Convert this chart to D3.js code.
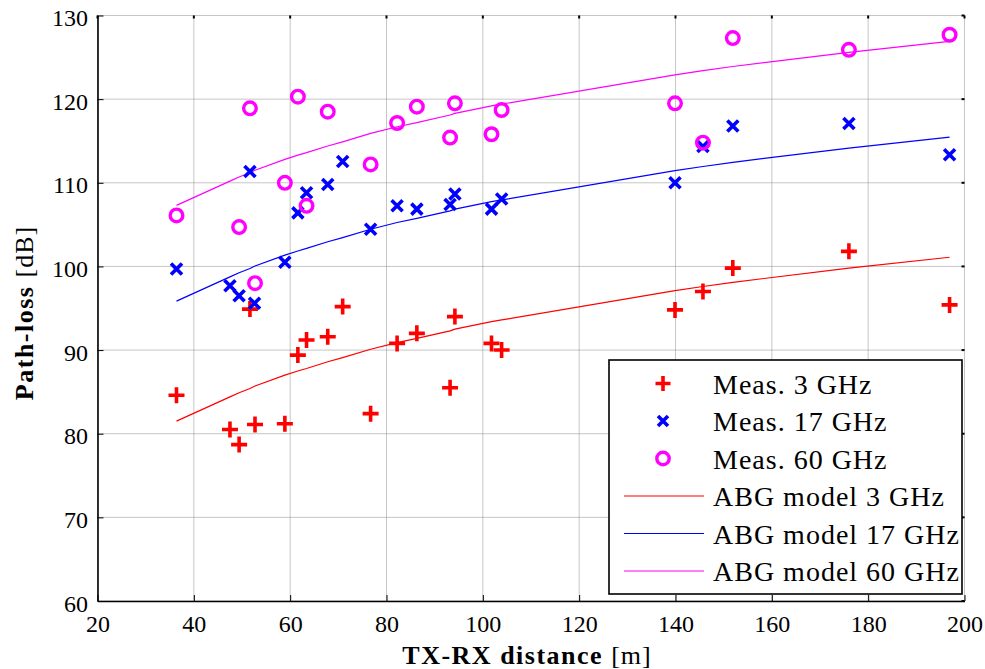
<!DOCTYPE html>
<html>
<head>
<meta charset="utf-8">
<script src="https://cdn.jsdelivr.net/npm/d3@7"></script>
<style>
  html, body { margin: 0; padding: 0; background: #fff; }
  svg { display: block; }
  text { font-family: "Liberation Serif", "Times New Roman", serif; fill: #000; }
</style>
</head>
<body>
<svg id="chart" width="985" height="669"></svg>
<script>
// ---------------- DATA ----------------
const xTicks = [20, 40, 60, 80, 100, 120, 140, 160, 180, 200];
const yTicks = [60, 70, 80, 90, 100, 110, 120, 130];

// Measurements 3 GHz
const dist3 = [36.4, 47.5, 49.4, 51.65, 52.7, 58.9, 61.6, 63.4, 67.8, 70.9, 76.7, 82.2, 86.3, 93.2, 94.2, 101.8, 103.9, 139.9, 145.7, 151.9, 176.0, 196.9];
const meas3 = [84.6, 80.5, 78.7, 94.9, 81.1, 81.2, 89.4, 91.2, 91.6, 95.2, 82.4, 90.8, 92.0, 85.5, 94.0, 90.8, 90.0, 94.8, 97.0, 99.8, 101.8, 95.4];

// Measurements 17 GHz
const dist17 = [36.4, 47.5, 49.4, 51.65, 52.6, 58.9, 61.6, 63.4, 67.8, 70.9, 76.7, 82.2, 86.3, 93.2, 94.2, 101.8, 103.9, 139.9, 145.7, 151.9, 176.0, 196.9];
const meas17 = [99.7, 97.7, 96.5, 111.35, 95.6, 100.5, 106.4, 108.8, 109.8, 112.55, 104.45, 107.25, 106.85, 107.4, 108.65, 106.85, 108.05, 110.0, 114.35, 116.8, 117.1, 113.35];

// Measurements 60 GHz
const dist60 = [36.4, 49.4, 51.65, 52.7, 58.9, 61.6, 63.4, 67.8, 76.7, 82.2, 86.3, 93.2, 94.2, 101.8, 103.9, 139.9, 145.7, 151.9, 176.0, 196.9];
const meas60 = [106.1, 104.7, 118.9, 98.0, 110.0, 120.3, 107.25, 118.5, 112.2, 117.15, 119.1, 115.4, 119.5, 115.8, 118.7, 119.5, 114.8, 127.3, 125.9, 127.7];

// ABG model curves (read at the measurement distances)
const modelDist = [36.4, 47.5, 49.4, 51.65, 52.7, 58.9, 61.6, 63.4, 67.8, 70.9, 76.7, 82.2, 86.3, 93.2, 94.2, 101.8, 103.9, 139.9, 145.7, 151.9, 176.0, 196.9];
const abg3  = [81.5, 84.4, 84.9, 85.4, 85.7, 87.0, 87.5, 87.8, 88.6, 89.1, 90.1, 90.9, 91.4, 92.3, 92.5, 93.4, 93.6, 97.1, 97.6, 98.1, 99.8, 101.1];
const abg17 = [95.85, 98.75, 99.25, 99.75, 100.05, 101.35, 101.85, 102.15, 102.95, 103.45, 104.45, 105.25, 105.75, 106.65, 106.85, 107.75, 107.95, 111.45, 111.95, 112.45, 114.15, 115.45];
const abg60 = [107.3, 110.2, 110.7, 111.2, 111.5, 112.8, 113.3, 113.6, 114.4, 114.9, 115.9, 116.7, 117.2, 118.1, 118.3, 119.2, 119.4, 122.9, 123.4, 123.9, 125.6, 126.9];

const legendLabels = ["Meas. 3 GHz", "Meas. 17 GHz", "Meas. 60 GHz", "ABG model 3 GHz", "ABG model 17 GHz", "ABG model 60 GHz"];

// ---------------- LAYOUT ----------------
const svg = d3.select("#chart");
const L = 97.5, R = 964.5, T = 15.5, B = 601;
const x = d3.scaleLinear().domain([20, 200]).range([L, R]);
const y = d3.scaleLinear().domain([60, 130]).range([B, T]);

const RED = "#ff0000", BLUE = "#0000ff", MAG = "#ff00ff";
const FONT = '"Liberation Serif", "Times New Roman", serif';

// grid
const grid = svg.append("g");
grid.selectAll("line.gx").data(xTicks).enter().append("line")
  .attr("x1", d => x(d)).attr("x2", d => x(d)).attr("y1", T).attr("y2", B)
  .attr("stroke", "#8c8c8c").attr("stroke-width", 1).attr("stroke-dasharray", "1,1");
grid.selectAll("line.gy").data(yTicks).enter().append("line")
  .attr("x1", L).attr("x2", R).attr("y1", d => y(d)).attr("y2", d => y(d))
  .attr("stroke", "#8c8c8c").attr("stroke-width", 1).attr("stroke-dasharray", "1,1");

// axes (ticks inside)
const xAxis = d3.axisBottom(x).tickValues(xTicks).tickSizeInner(-6).tickSizeOuter(0).tickPadding(14);
const yAxis = d3.axisLeft(y).tickValues(yTicks).tickSizeInner(-6).tickSizeOuter(0).tickPadding(14);
const gx = svg.append("g").attr("transform", `translate(0,${B})`).call(xAxis);
const gy = svg.append("g").attr("transform", `translate(${L},0)`).call(yAxis);
[gx, gy].forEach(g => {
  g.attr("font-family", null).attr("font-size", null);
  g.select(".domain").attr("stroke", "#000").attr("stroke-width", 1.6);
  g.selectAll(".tick line").attr("stroke", "#000").attr("stroke-width", 1);
  g.selectAll(".tick text").style("font-family", FONT).style("font-size", "24px").attr("fill", "#000");
});
gx.selectAll(".tick text").attr("dy", "0.71em").attr("y", 14);
gy.selectAll(".tick text").attr("dy", "0.42em").attr("x", -9.5);

// top / right ticks
svg.append("g").selectAll("line").data(xTicks).enter().append("line")
  .attr("x1", d => x(d)).attr("x2", d => x(d)).attr("y1", T).attr("y2", T + 3)
  .attr("stroke", "#000").attr("stroke-width", 2);
svg.append("g").selectAll("line").data(yTicks).enter().append("line")
  .attr("x1", R - 3).attr("x2", R).attr("y1", d => y(d)).attr("y2", d => y(d))
  .attr("stroke", "#000").attr("stroke-width", 2);

// model lines
const lineGen = d3.line().x(d => x(d[0])).y(d => y(d[1]));
[[abg3, RED], [abg17, BLUE], [abg60, MAG]].forEach(([vals, col]) => {
  svg.append("path").datum(modelDist.map((d, i) => [d, vals[i]]))
    .attr("d", lineGen).attr("fill", "none").attr("stroke", col).attr("stroke-width", 1.2);
});

// markers
function plus(g, cx, cy, col, s) {
  g.append("path").attr("d", `M${cx - s},${cy}H${cx + s}M${cx},${cy - s}V${cy + s}`)
    .attr("stroke", col).attr("stroke-width", 3.6).attr("fill", "none");
}
function cross(g, cx, cy, col, s) {
  g.append("path").attr("d", `M${cx - s},${cy - s}L${cx + s},${cy + s}M${cx - s},${cy + s}L${cx + s},${cy - s}`)
    .attr("stroke", col).attr("stroke-width", 3.6).attr("fill", "none");
}
function circ(g, cx, cy, col, r) {
  g.append("circle").attr("cx", cx).attr("cy", cy).attr("r", r)
    .attr("stroke", col).attr("stroke-width", 3.4).attr("fill", "none");
}
const mk = svg.append("g");
dist3.forEach((d, i) => plus(mk, x(d), y(meas3[i]), RED, 8));
dist17.forEach((d, i) => cross(mk, x(d), y(meas17[i]), BLUE, 5.5));
dist60.forEach((d, i) => circ(mk, x(d), y(meas60[i]), MAG, 6.3));

// legend
const lg = svg.append("g");
lg.append("rect").attr("x", 609).attr("y", 360).attr("width", 353).attr("height", 234)
  .attr("fill", "#fff").attr("stroke", "#000").attr("stroke-width", 1.6);
const rowY = i => 383.5 + i * 37.5;
plus(lg, 663, rowY(0), RED, 7.5);
cross(lg, 663, rowY(1), BLUE, 5);
circ(lg, 663, rowY(2), MAG, 6.2);
[RED, BLUE, MAG].forEach((c, i) => {
  lg.append("line").attr("x1", 624).attr("x2", 704).attr("y1", rowY(3 + i)).attr("y2", rowY(3 + i))
    .attr("stroke", c).attr("stroke-width", 1.2);
});
legendLabels.forEach((t, i) => {
  lg.append("text").attr("x", 713).attr("y", rowY(i) + 10).attr("font-size", 28)
    .attr("letter-spacing", 1).text(t);
});

// axis titles
const xt = svg.append("text").attr("x", 527).attr("y", 664).attr("text-anchor", "middle").attr("font-size", 26);
xt.append("tspan").attr("font-weight", "bold").attr("letter-spacing", 1.5).text("TX-RX distance ");
xt.append("tspan").attr("letter-spacing", 1).text("[m]");

const yt = svg.append("text").attr("transform", "translate(33,313) rotate(-90)")
  .attr("text-anchor", "middle").attr("font-size", 26);
yt.append("tspan").attr("font-weight", "bold").attr("letter-spacing", 1.5).text("Path-loss ");
yt.append("tspan").attr("letter-spacing", 1).text("[dB]");
</script>
</body>
</html>
